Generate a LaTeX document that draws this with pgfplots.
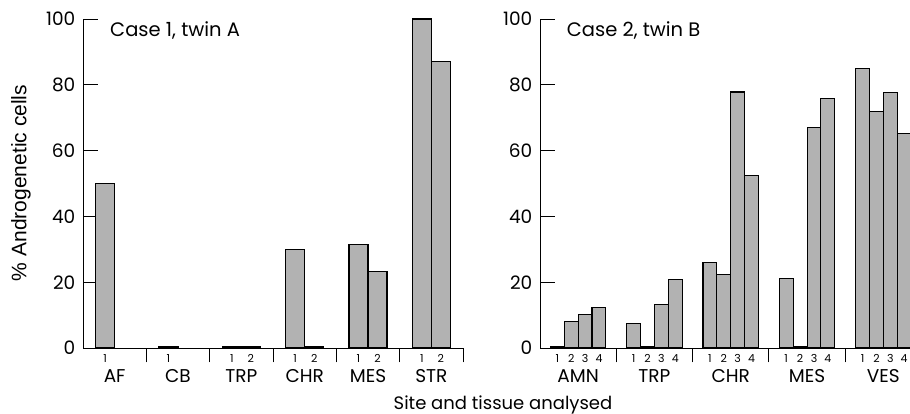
\documentclass[border=0pt]{standalone}
\usepackage{fontspec}
\setmainfont{Poppins}
\newfontfamily\labfont{Liberation Sans}
\usepackage{pgfplots}
\pgfplotsset{compat=1.18}
\definecolor{barfill}{RGB}{178,178,178}
\newcommand{\tickfont}{\fontsize{18.5}{18.5}\selectfont}
\newcommand{\numfont}{\fontsize{11}{11}\selectfont}
\newcommand{\grpfont}{\fontsize{18.5}{18.5}\selectfont}
\newcommand{\titfont}{\fontsize{19.5}{19.5}\selectfont}
\tikzset{grp/.style={anchor=base, font=\grpfont, yshift=-35pt},
  barsty/.style={fill=barfill, draw=black, line width=1.1pt}}
\pgfplotsset{
  panel/.style={
    scale only axis, height=329pt,
    ymin=0, ymax=100,
    axis lines=left, axis line style={-, line width=0.9pt},
    ytick={0,20,...,100}, tick align=inside, major tick length=14.5pt,
    tick style={line width=0.9pt, black},
    /pgf/number format/assume math mode=true,
    yticklabel style={font=\tickfont, inner sep=0pt, xshift=-7.5pt},
    xticklabels={},
    extra x tick style={major tick length=0pt, tick label style={font=\numfont, inner sep=0pt, anchor=north, yshift=-6pt}},
    ybar, bar shift=0pt,
    clip=false,
  },
}
\begin{document}
\begin{tikzpicture}
\path[use as bounding box] (0,0) rectangle (910pt,414pt);
% ---------------- left panel ----------------
\begin{axis}[panel, at={(83pt,66pt)}, anchor=south west, width=380pt,
  xmin=0, xmax=60, bar width=3,
  xtick={10,20,30,40,50,60},
  extra x ticks={3.5,13.5,23.5,26.5,33.5,36.5,43.5,46.5,53.5,56.5},
  extra x tick labels={1,1,1,2,1,2,1,2,1,2}]
\addplot[barsty] coordinates {(3.5,50) (13.5,0.3) (23.5,0.3) (26.5,0.3) (33.5,30) (36.5,0.3) (43.5,31.4) (46.5,23.3) (53.5,100) (56.5,87.0)};
\node[anchor=base west, font=\titfont] at (rel axis cs:0.0624,0.948) {Case 1, twin A};
\node[grp] at (axis cs:5,0) {AF};
\node[grp] at (axis cs:15,0) {CB};
\node[grp] at (axis cs:25,0) {TRP};
\node[grp] at (axis cs:35,0) {CHR};
\node[grp] at (axis cs:45,0) {MES};
\node[grp] at (axis cs:55,0) {STR};
\end{axis}
% ---------------- right panel ----------------
\begin{axis}[panel, at={(540pt,66pt)}, anchor=south west, width=371.1pt,
  xmin=0, xmax=53.5, bar width=2,
  yticklabels={0,20,40,60,80,{100\hspace{8pt}}},
  xtick={11,22,33,44},
  extra x ticks={2.5,4.5,6.5,8.5,13.5,15.5,17.5,19.5,24.5,26.5,28.5,30.5,35.5,37.5,39.5,41.5,46.5,48.5,50.5,52.5},
  extra x tick labels={1,2,3,4,1,2,3,4,1,2,3,4,1,2,3,4,1,2,3,4}]
\addplot[barsty] coordinates {(2.5,0.3) (4.5,8.0) (6.5,10.1) (8.5,12.2)
  (13.5,7.4) (15.5,0.3) (17.5,13.1) (19.5,20.9)
  (24.5,25.9) (26.5,22.3) (28.5,77.8) (30.5,52.3)
  (35.5,21.1) (37.5,0.3) (39.5,67.1) (41.5,75.9)
  (46.5,84.9) (48.5,71.8) (50.5,77.6) (52.5,65.2)};
\node[anchor=base west, font=\titfont] at (rel axis cs:0.0628,0.948) {Case 2, twin B};
\node[grp] at (axis cs:5.5,0) {AMN};
\node[grp] at (axis cs:16.5,0) {TRP};
\node[grp] at (axis cs:27.5,0) {CHR};
\node[grp] at (axis cs:38.5,0) {MES};
\node[grp] at (axis cs:49.5,0) {VES};
\end{axis}
\node[anchor=base, font=\fontsize{18}{18}\selectfont] at (503pt,4.5pt) {Site and tissue analysed};
\node[rotate=90, font=\labfont\fontsize{21}{21}\selectfont] at (21pt,231pt) {\% Androgenetic cells};
\end{tikzpicture}
\end{document}
